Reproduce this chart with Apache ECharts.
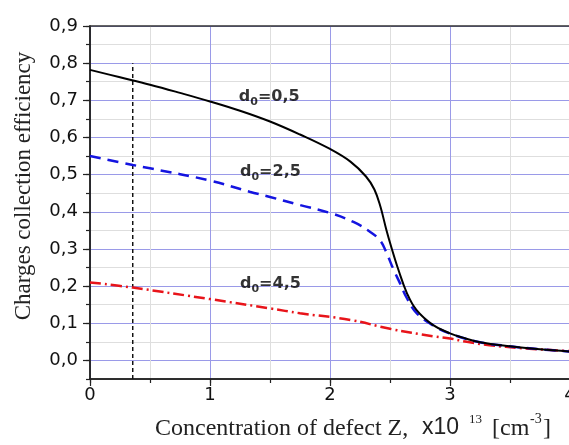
<!DOCTYPE html>
<html>
<head>
<meta charset="utf-8">
<script src="https://cdn.jsdelivr.net/npm/echarts@6/dist/echarts.min.js"></script>
<style>html,body{margin:0;padding:0;background:#fff;}#c{width:569px;height:445px;}</style>
</head>
<body>
<div id="c"></div>
<script>
// ---- data ----
const xD05 = [0, 0.25, 0.5, 0.75, 1.0, 1.25, 1.5, 1.75, 2.0, 2.17, 2.3, 2.37, 2.42, 2.47, 2.51, 2.57, 2.64, 2.72, 2.86, 3.0, 3.1, 3.25, 3.5, 3.75, 4.0];
const yD05 = [0.782, 0.762, 0.742, 0.720, 0.697, 0.672, 0.643, 0.608, 0.569, 0.535, 0.495, 0.460, 0.414, 0.351, 0.306, 0.244, 0.182, 0.136, 0.095, 0.073, 0.062, 0.049, 0.038, 0.030, 0.024];

const xD25 = [0, 0.356, 0.5, 1.0, 1.33, 1.5, 1.75, 2.0, 2.2, 2.33, 2.42, 2.47, 2.53, 2.58, 2.64, 2.72, 2.86, 3.0, 3.25, 3.5, 3.75, 4.0];
const yD25 = [0.550, 0.526, 0.517, 0.484, 0.454, 0.440, 0.418, 0.397, 0.372, 0.347, 0.322, 0.290, 0.244, 0.210, 0.168, 0.128, 0.094, 0.072, 0.049, 0.038, 0.030, 0.024];

const xD45 = [0, 0.356, 1.0, 1.5, 1.75, 2.17, 2.5, 2.86, 3.0, 3.14, 3.33, 3.6, 4.0];
const yD45 = [0.210, 0.196, 0.165, 0.140, 0.127, 0.109, 0.085, 0.065, 0.059, 0.050, 0.041, 0.033, 0.025];

const markerX = 0.356;
const markerYTop = 0.8;
const markerYBottom = -0.05;

const xTickValues = [0, 1, 2, 3, 4];
const xTickLabels = ['0', '1', '2', '3', '4'];
const yTickValues = [0, 0.1, 0.2, 0.3, 0.4, 0.5, 0.6, 0.7, 0.8, 0.9];
const yTickLabels = ['0,0', '0,1', '0,2', '0,3', '0,4', '0,5', '0,6', '0,7', '0,8', '0,9'];

const annotText = ['0,5', '2,5', '4,5'];
const annotX = [1.24, 1.25, 1.25];
const annotY = [0.709, 0.507, 0.206];

// ---- chart ----
function zip(xs, ys) { return xs.map((x, i) => [x, ys[i]]); }

const sans = 'DejaVu Sans, Arial, sans-serif';
const lsans = 'Liberation Sans, Arial, sans-serif';
const serif = 'Liberation Serif, Times New Roman, serif';
const majorGrid = '#9a9ae8';
const minorGrid = '#dedede';
const axisCol = '#222';

const chart = echarts.init(document.getElementById('c'), null, { renderer: 'canvas' });

const yLabelFmt = v => {
  const k = Math.round(v * 100);
  return (k >= 0 && k % 10 === 0) ? yTickLabels[k / 10] : '';
};
const xLabelFmt = v => {
  const k = Math.round(v * 10);
  return (k % 10 === 0) ? xTickLabels[k / 10] : '';
};

const option = {
  animation: false,
  backgroundColor: '#fff',
  grid: { left: 90, top: 26, right: -1, bottom: 66, outerBoundsMode: 'none', containLabel: false },
  xAxis: [{
    // minor grid + minor ticks every 0.5
    type: 'value', min: 0, max: 4, interval: 0.5, position: 'bottom',
    axisLine: { show: true, onZero: false, lineStyle: { color: axisCol, width: 1.5 } },
    axisTick: { show: true, length: 4, lineStyle: { color: axisCol, width: 1.2 } },
    axisLabel: { show: false },
    splitLine: { show: true, lineStyle: { color: [majorGrid, minorGrid], width: 1 } }
  }, {
    // top frame
    type: 'value', min: 0, max: 4, position: 'top',
    axisLine: { show: true, onZero: false, lineStyle: { color: '#333', width: 1.5 } },
    axisTick: { show: false }, axisLabel: { show: false }, splitLine: { show: false }
  }, {
    // major ticks + labels
    type: 'value', min: 0, max: 4, position: 'bottom', offset: 0,
    axisLine: { show: true, onZero: false, lineStyle: { color: axisCol, width: 1.5 } },
    axisTick: { show: true, length: 7, customValues: xTickValues, lineStyle: { color: axisCol, width: 1.2 } },
    axisLabel: {
      show: true, customValues: xTickValues,
      color: '#111', fontSize: 18, fontFamily: sans, margin: 7, formatter: xLabelFmt
    },
    splitLine: { show: false }
  }],
  yAxis: [{
    type: 'value', min: -0.05, max: 0.9, interval: 0.05, position: 'left',
    axisLine: { show: true, onZero: false, lineStyle: { color: axisCol, width: 1.5 } },
    axisTick: { show: true, length: 4, lineStyle: { color: axisCol, width: 1.2 } },
    axisLabel: { show: false },
    splitLine: { show: true, lineStyle: { color: [minorGrid, majorGrid], width: 1 } }
  }, {
    type: 'value', min: -0.05, max: 0.9, position: 'left', offset: 0,
    axisLine: { show: true, onZero: false, lineStyle: { color: axisCol, width: 1.5 } },
    axisTick: { show: true, length: 7, customValues: yTickValues, lineStyle: { color: axisCol, width: 1.2 } },
    axisLabel: {
      show: true, customValues: yTickValues,
      color: '#111', fontSize: 18, fontFamily: sans, margin: 12, formatter: yLabelFmt
    },
    splitLine: { show: false }
  }],
  series: [
    {
      name: 'marker', type: 'line', showSymbol: false, silent: true,
      data: [[markerX, markerYBottom], [markerX, markerYTop]],
      lineStyle: { color: '#111', width: 1.5, type: [4, 3] }, z: 3
    },
    {
      name: 'd0=4,5', type: 'line', showSymbol: false, smooth: 0.4,
      data: zip(xD45, yD45),
      lineStyle: { color: '#e8141a', width: 2.5, type: [11, 4, 2, 4] }, z: 4
    },
    {
      name: 'd0=2,5', type: 'line', showSymbol: false, smooth: 0.4,
      data: zip(xD25, yD25),
      lineStyle: { color: '#1414e0', width: 2.5, type: [11, 7] }, z: 5
    },
    {
      name: 'd0=0,5', type: 'line', showSymbol: false, smooth: 0.4,
      data: zip(xD05, yD05),
      lineStyle: { color: '#000', width: 2 }, z: 6
    },
    {
      name: 'annotations', type: 'scatter', symbolSize: 0, silent: true,
      data: annotText.map((t, i) => ({ value: [annotX[i], annotY[i]], name: t })),
      label: {
        show: true, position: 'right', distance: 0,
        formatter: p => '{b|d}{s|0}{b|=' + p.name + '}',
        rich: {
          b: { fontFamily: sans, fontWeight: 'bold', fontSize: 16, color: '#000' },
          s: { fontFamily: sans, fontWeight: 'bold', fontSize: 11, color: '#000', padding: [10, 0, 0, 0] }
        }
      }, z: 7
    }
  ],
  graphic: [
    {
      type: 'text', x: 24, y: 186, rotation: Math.PI / 2,
      style: {
        text: 'Charges collection efficiency', fontFamily: serif, fontSize: 23,
        fill: '#222', align: 'center', verticalAlign: 'middle'
      }
    },
    {
      type: 'text', x: 155, y: 429,
      style: { text: 'Concentration of defect Z,', fontFamily: serif, fontSize: 24, fill: '#222', align: 'left', verticalAlign: 'middle' }
    },
    {
      type: 'text', x: 422, y: 428,
      style: { text: 'x10', fontFamily: lsans, fontSize: 23, fill: '#222', align: 'left', verticalAlign: 'middle' }
    },
    {
      type: 'text', x: 469, y: 420,
      style: { text: '13', fontFamily: serif, fontSize: 13, fill: '#222', align: 'left', verticalAlign: 'middle' }
    },
    {
      type: 'text', x: 492, y: 429,
      style: { text: '[cm', fontFamily: serif, fontSize: 24, fill: '#222', align: 'left', verticalAlign: 'middle' }
    },
    {
      type: 'text', x: 530, y: 419,
      style: { text: '-3', fontFamily: serif, fontSize: 14, fill: '#222', align: 'left', verticalAlign: 'middle' }
    },
    {
      type: 'text', x: 543, y: 429,
      style: { text: ']', fontFamily: serif, fontSize: 24, fill: '#222', align: 'left', verticalAlign: 'middle' }
    }
  ]
};

chart.setOption(option);
</script>
</body>
</html>
